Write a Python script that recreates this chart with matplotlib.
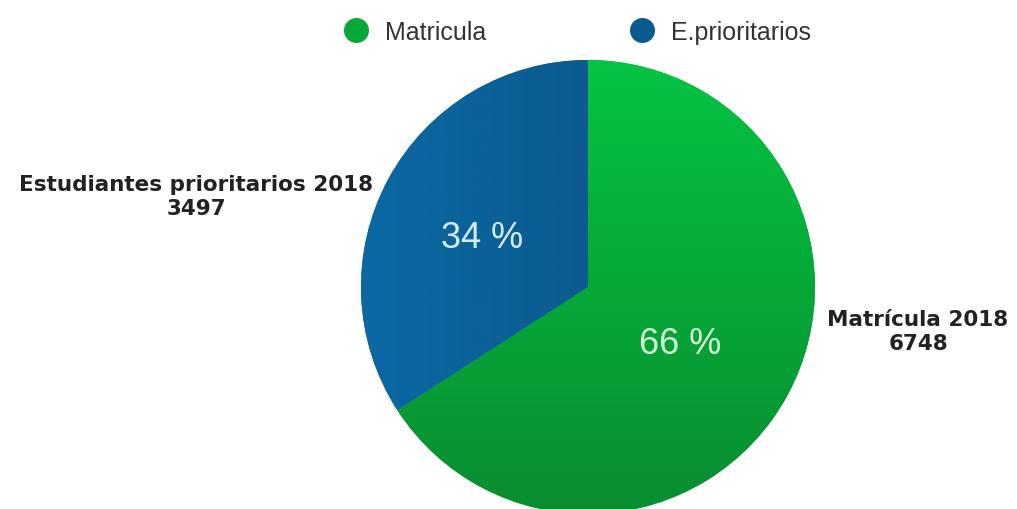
import matplotlib
matplotlib.use('Agg')
import matplotlib.pyplot as plt
import numpy as np
from matplotlib.lines import Line2D
from matplotlib.colors import LinearSegmentedColormap

# data
categorias = ['Matricula', 'E.prioritarios']
etiquetas = ['Matrícula 2018', 'Estudiantes prioritarios 2018']
valores = [6748, 3497]
colores = ['#06a838', '#0b5b90']

fig = plt.figure(figsize=(10.17, 5.10), dpi=100)
ax = fig.add_axes([0, 0, 1, 1])

cx, cy, r = 588, 222, 227
wedges, texts, autotexts = ax.pie(valores, colors=colores, startangle=90, counterclock=False,
                                  center=(cx, cy), radius=r, frame=True,
                                  autopct=lambda p: '%d %%' % round(p), pctdistance=0.53,
                                  textprops=dict(fontsize=26, family='Liberation Sans', weight='light'))
ax.set_xlim(0, 1017)
ax.set_ylim(0, 510)
ax.set_aspect('equal')
ax.axis('off')

# degradado suave dentro de cada sector
ext = [cx - r, cx + r, cy - r, cy + r]
g = np.linspace(0, 1, 256)
cm_verde = LinearSegmentedColormap.from_list('v', ['#0a8d30', '#06a838', '#05c444'])
im = ax.imshow(g[:, None], cmap=cm_verde, extent=ext, origin='lower', aspect='auto', zorder=1.5)
im.set_clip_path(wedges[0])
cm_azul = LinearSegmentedColormap.from_list('a', ['#0b69a4', '#0b5b90', '#0a5185'])
im2 = ax.imshow(g[None, :], cmap=cm_azul, extent=ext, origin='lower', aspect='auto', zorder=1.5)
im2.set_clip_path(wedges[1])

autotexts[0].set_color('#d4f5dc')
autotexts[1].set_color('#d6ecff')
autotexts[0].set_position((680, 166))
autotexts[1].set_position((482, 272))
for t in autotexts:
    t.set_zorder(3)

# etiquetas exteriores
ax.text(918, 178, '%s\n%d' % (etiquetas[0], valores[0]), ha='center', va='center',
        fontsize=15.5, weight='bold', family='DejaVu Sans', color='#222222', linespacing=1.2)
ax.text(196, 313, '%s\n%d' % (etiquetas[1], valores[1]), ha='center', va='center',
        fontsize=15.5, weight='bold', family='DejaVu Sans', color='#222222', linespacing=1.2)

handles = [Line2D([], [], marker='o', ls='', markersize=17, color=c) for c in colores]
leg = fig.legend(handles, categorias, loc='center', bbox_to_anchor=(0.5615, 0.936), ncol=2,
                 frameon=False, columnspacing=5.25, handletextpad=0.15,
                 prop=dict(family='Liberation Sans', size=18))
for t in leg.get_texts():
    t.set_color('#333333')

fig.savefig('out.png', dpi=100)
